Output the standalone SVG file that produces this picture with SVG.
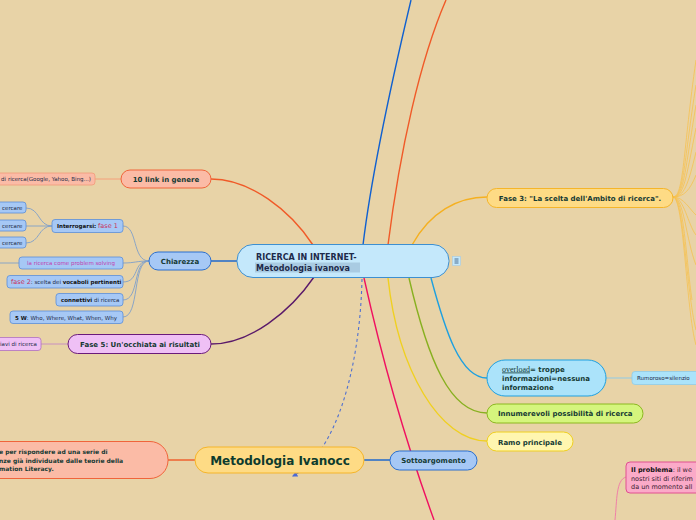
<svg xmlns="http://www.w3.org/2000/svg" width="696" height="520" viewBox="0 0 696 520">
<defs>
<style>
text{font-family:"DejaVu Sans","Liberation Sans",sans-serif;fill:#153a34}
.b{font-weight:bold}
.m{font-size:7px;font-weight:bold}
.s{font-size:5.5px;fill:#1c2a48}
.red{fill:#c8305a}
.mag{fill:#c040b0}
.c{fill:none;stroke-width:1.4}
.cs{fill:none;stroke:#7f9fca;stroke-width:0.9}
.cy{fill:none;stroke:#f6c250;stroke-width:0.8}
.blue{fill:#a6c8f5;stroke:#2a6fd0;stroke-width:1}
.blues{fill:#a6c8f5;stroke:#5b8ed8;stroke-width:0.8}
.sal{fill:#fbbba6;stroke:#f0643a;stroke-width:1}
.sals{fill:#fbbba6;stroke:#f29a78;stroke-width:0.8}
.vio{fill:#efc0f5;stroke:#6a1a7a;stroke-width:1}
.vios{fill:#efc0f5;stroke:#b070c0;stroke-width:0.8}
.yel{fill:#fedb85;stroke:#f5b52a;stroke-width:1}
</style>
<marker id="ah" viewBox="0 0 10 10" refX="8" refY="5" markerWidth="5" markerHeight="5" orient="auto"><path d="M0,0L10,5L0,10z" fill="#4a6ad8"/></marker>
</defs>
<rect width="696" height="520" fill="#e8d3a7"/>
<g id="connectors">
<path class="c" stroke="#1060d0" d="M363,245 C372,170 392,80 411,0"/>
<path class="c" stroke="#f05a28" d="M388,245 C400,150 420,60 446,0"/>
<path class="c" stroke="#f05a28" d="M313,245 C290,210 250,179 211,179"/>
<path class="c" stroke="#1060d0" d="M237,261 L211,261"/>
<path class="c" stroke="#5a1a6a" d="M314,277 C290,312 250,344 211,344"/>
<path class="c" stroke="#f5b020" d="M412,245 C430,212 458,197 487,197"/>
<path class="c" stroke="#1ea0e0" d="M431,278 C445,330 460,378 487,378"/>
<path class="c" stroke="#88b020" d="M409,278 C428,360 450,413 487,413"/>
<path class="c" stroke="#f0d020" d="M388,278 C398,370 440,441 487,441"/>
<path class="c" stroke="#f01060" d="M364,278 C380,350 405,440 434,520"/>
<path fill="none" stroke="#5070d0" stroke-width="1.1" stroke-dasharray="3,3" d="M362,279 C360,370 335,455 293,476" marker-end="url(#ah)"/>
<path class="c" stroke="#1060d0" d="M364,460 L390,460"/>
<path class="c" stroke="#f05a28" d="M168,460 L195,460"/>
<path fill="none" stroke="#f5a07a" stroke-width="1" d="M121,179 L95,179"/>
<path fill="none" stroke="#c890c0" stroke-width="1" d="M68,344 L41,344"/>
<path fill="none" stroke="#8fcbe8" stroke-width="1" d="M606,378 L632,378"/>
<path fill="none" stroke="#f080a8" stroke-width="1" d="M626,477 C616,480 617,500 615,520"/>
<path class="cs" d="M149,261 C132,261 138,226 123,226"/>
<path class="cs" d="M149,261 C136,261 135,263 123,263"/>
<path class="cs" d="M149,261 C132,261 140,282 123,282"/>
<path class="cs" d="M149,261 C132,261 140,300 123,300"/>
<path class="cs" d="M149,261 C132,261 140,317 123,317"/>
<path class="cs" d="M19,263 L0,263"/>
<path class="cs" d="M52,226 C38,226 40,208 26,208"/>
<path class="cs" d="M52,226 L26,226"/>
<path class="cs" d="M52,226 C38,226 40,243 26,243"/>
<path class="cy" d="M673,197 C684,197 683,150 696,60"/>
<path class="cy" d="M673,197 C684,197 684,160 696,85"/>
<path class="cy" d="M673,197 C684,197 685,170 696,105"/>
<path class="cy" d="M673,197 C684,197 686,178 696,128"/>
<path class="cy" d="M673,197 C684,197 688,185 696,152"/>
<path class="cy" d="M673,197 C684,197 690,190 696,175"/>
<path class="cy" d="M673,197 C684,197 690,210 696,215"/>
<path class="cy" d="M673,197 C684,197 688,225 696,235"/>
<path class="cy" d="M673,197 C684,197 686,240 696,265"/>
<path class="cy" d="M673,197 C684,197 686,260 692,300"/>
<path class="cy" d="M673,197 C684,197 686,290 696,330"/>
<path class="cy" d="M673,197 C684,197 686,310 696,345"/>
</g>
<g id="central">
<rect x="237" y="244.5" width="212" height="33" rx="16" fill="#c4e8fb" stroke="#3d8fd0" stroke-width="1"/>
<rect x="255" y="262.5" width="105" height="10" fill="#a9cbe2"/>
<text x="256" y="259.5" class="b" font-size="8" style="fill:#1d2a4a">RICERCA IN INTERNET-</text>
<text x="256" y="270.5" class="b" font-size="8" style="fill:#1d2a4a">Metodologia ivanova</text>
<rect x="452.5" y="256.5" width="8" height="9" fill="#c4e8fb" stroke="#9cc8e8" stroke-width="0.5"/>
<path d="M454.5,259 h4 M454.5,261 h4 M454.5,263 h4" stroke="#30507a" stroke-width="0.8"/>
</g>
<g id="n-10link">
<rect x="121" y="170" width="90" height="18" rx="9" class="sal"/>
<text x="166" y="181.5" class="m" text-anchor="middle">10 link in genere</text>
</g>
<g id="n-motori">
<rect x="-10" y="173" width="105" height="12" rx="3" class="sals"/>
<text x="91" y="181" class="s" text-anchor="end">di ricerca(Google, Yahoo, Bing...)</text>
</g>
<g id="n-chiarezza">
<rect x="149" y="252" width="62" height="18" rx="9" class="blue"/>
<text x="180" y="263.5" class="m" text-anchor="middle">Chiarezza</text>
</g>
<g id="n-interrogarsi">
<rect x="52" y="219.5" width="71" height="13" rx="3" class="blues"/>
<text x="57" y="228.3" class="s"><tspan class="b" style="fill:#111">Interrogarsi:</tspan> <tspan class="red" font-size="6.5">fase 1</tspan></text>
</g>
<g id="n-cercare1"><rect x="-10" y="202" width="36" height="11" rx="3" class="blues"/><text x="2" y="210" class="s">cercare</text></g>
<g id="n-cercare2"><rect x="-10" y="220" width="36" height="11" rx="3" class="blues"/><text x="2" y="228" class="s">cercare</text></g>
<g id="n-cercare3"><rect x="-10" y="237" width="36" height="11" rx="3" class="blues"/><text x="2" y="245" class="s">cercare</text></g>
<g id="n-problem">
<rect x="19" y="257" width="104" height="12" rx="3" class="blues"/>
<text x="71" y="265.3" class="s mag" text-anchor="middle" style="fill:#c040b0">la ricerca come problem solving</text>
</g>
<g id="n-fase2">
<rect x="7" y="275.5" width="116" height="12.5" rx="3" class="blues"/>
<text x="11" y="284" class="s"><tspan class="red" font-size="6.5">fase 2</tspan>: scelta dei <tspan class="b" style="fill:#111">vocaboli pertinenti</tspan></text>
</g>
<g id="n-connettivi">
<rect x="56" y="293.5" width="67" height="12.5" rx="3" class="blues"/>
<text x="61" y="302" class="s"><tspan class="b" style="fill:#111">connettivi</tspan> di ricerca</text>
</g>
<g id="n-5w">
<rect x="10" y="311" width="113" height="12.5" rx="3" class="blues"/>
<text x="15" y="319.5" class="s"><tspan class="b" style="fill:#111">5 W</tspan>: Who, Where, What, When, Why</text>
</g>
<g id="n-fase5">
<rect x="68" y="334.5" width="143" height="19" rx="9.5" class="vio"/>
<text x="140" y="346.5" class="m" text-anchor="middle">Fase 5: Un'occhiata ai risultati</text>
</g>
<g id="n-chiavi">
<rect x="-10" y="337.5" width="51" height="13" rx="3" class="vios"/>
<text x="37" y="346" class="s" text-anchor="end">iavi di ricerca</text>
</g>
<g id="n-fase3">
<rect x="487" y="188.5" width="186" height="19" rx="9.5" class="yel"/>
<text x="580" y="200.5" class="m" text-anchor="middle">Fase 3: "La scelta dell'Ambito di ricerca".</text>
</g>
<g id="n-overload">
<rect x="487" y="360" width="119" height="36" rx="18" fill="#abe3fa" stroke="#1ea0e0" stroke-width="1"/>
<text x="502" y="371.5" class="m"><tspan font-weight="normal" font-size="8" text-decoration="underline" style="font-family:'Liberation Serif',serif">overload</tspan>= troppe</text>
<text x="502" y="380.5" class="m">informazioni=nessuna</text>
<text x="502" y="389.5" class="m">informazione</text>
</g>
<g id="n-rumoroso">
<rect x="632" y="371.5" width="74" height="13" rx="3" fill="#abe3fa" stroke="#8fcbe8" stroke-width="0.8"/>
<text x="637" y="380.3" class="s">Rumoroso=silenzio</text>
</g>
<g id="n-innumerevoli">
<rect x="487" y="404" width="156" height="19" rx="9.5" fill="#d5f57d" stroke="#8cb820" stroke-width="1"/>
<text x="498" y="416" class="m">Innumerevoli possibilità di ricerca</text>
</g>
<g id="n-ramo">
<rect x="487" y="432" width="86" height="19" rx="9.5" fill="#fff6b0" stroke="#f0d020" stroke-width="1"/>
<text x="498" y="444.5" class="m">Ramo principale</text>
</g>
<g id="n-metodologia">
<rect x="195" y="447" width="169" height="26" rx="13" class="yel"/>
<text x="280" y="464.5" class="b" font-size="12" text-anchor="middle" style="fill:#0d3b2e">Metodologia Ivanocc</text>
</g>
<g id="n-competenze">
<rect x="-20" y="441.5" width="188" height="37" rx="18" class="sal"/>
<text x="-1" y="454" class="b" font-size="6">e per rispondere ad una serie di</text>
<text x="-1" y="462.5" class="b" font-size="6">nze già individuate dalle teorie della</text>
<text x="-1" y="471" class="b" font-size="6">mation Literacy.</text>
</g>
<g id="n-sottoargomento">
<rect x="390" y="451" width="87" height="19" rx="9.5" class="blue"/>
<text x="433.5" y="463" class="m" text-anchor="middle">Sottoargomento</text>
</g>
<g id="n-problema">
<rect x="626" y="462" width="90" height="31" rx="4" fill="#fbaac8" stroke="#e05090" stroke-width="1"/>
<text x="631" y="472" font-size="6.5" style="fill:#3a2030"><tspan class="b" style="fill:#111">Il problema</tspan>: il we</text>
<text x="631" y="480.5" font-size="6.5" style="fill:#3a2030">nostri siti di riferim</text>
<text x="631" y="489" font-size="6.5" style="fill:#3a2030">da un momento all</text>
</g>
</svg>
